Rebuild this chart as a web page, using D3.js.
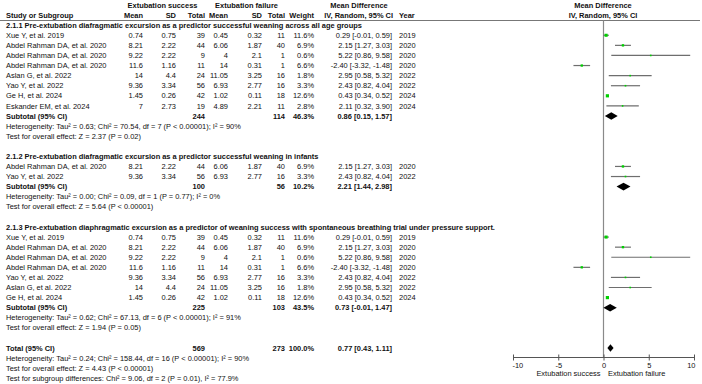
<!DOCTYPE html>
<html>
<head>
<meta charset="utf-8">
<script src="https://cdn.jsdelivr.net/npm/d3@7"></script>
<style>
  body { margin: 0; background: #fff; }
  svg text { font-family: "Liberation Sans", Arial, sans-serif; font-size: 7.45px; fill: #111; }
  .b { font-weight: bold; }
</style>
</head>
<body>
<div id="forest"></div>
<script>
// Forest plot: diaphragmatic excursion, extubation success vs failure
const groupTitles = [
  "2.1.1 Pre-extubation diafragmatic excursion as a predictor successful weaning across all age groups",
  "2.1.2 Pre-extubation diafragmatic excursion as a predictor successful weaning in infants",
  "2.1.3 Pre-extubation diaphragmatic excursion as a predictor of weaning success with spontaneous breathing trial under pressure support."
];

// study rows: [name, meanS, sdS, nS, meanF, sdF, nF, weight, md, lo, hi, year]
const group1 = [
  ["Xue Y, et al. 2019", "0.74", "0.75", 39, "0.45", "0.32", 11, 11.6, 0.29, -0.01, 0.59, 2019],
  ["Abdel Rahman DA, et al. 2020", "8.21", "2.22", 44, "6.06", "1.87", 40, 6.9, 2.15, 1.27, 3.03, 2020],
  ["Abdel Rahman DA, et al. 2020", "9.22", "2.22", 9, "4", "2.1", 1, 0.6, 5.22, 0.86, 9.58, 2020],
  ["Abdel Rahman DA, et al. 2020", "11.6", "1.16", 11, "14", "0.31", 1, 6.6, -2.40, -3.32, -1.48, 2020],
  ["Aslan G, et al. 2022", "14", "4.4", 24, "11.05", "3.25", 16, 1.8, 2.95, 0.58, 5.32, 2022],
  ["Yao Y, et al. 2022", "9.36", "3.34", 56, "6.93", "2.77", 16, 3.3, 2.43, 0.82, 4.04, 2022],
  ["Ge H, et al. 2024", "1.45", "0.26", 42, "1.02", "0.11", 18, 12.6, 0.43, 0.34, 0.52, 2024],
  ["Eskander EM, et al. 2024", "7", "2.73", 19, "4.89", "2.21", 11, 2.8, 2.11, 0.32, 3.90, 2024]
];
const group2 = [
  ["Abdel Rahman DA, et al. 2020", "8.21", "2.22", 44, "6.06", "1.87", 40, 6.9, 2.15, 1.27, 3.03, 2020],
  ["Yao Y, et al. 2022", "9.36", "3.34", 56, "6.93", "2.77", 16, 3.3, 2.43, 0.82, 4.04, 2022]
];
const group3 = [
  ["Xue Y, et al. 2019", "0.74", "0.75", 39, "0.45", "0.32", 11, 11.6, 0.29, -0.01, 0.59, 2019],
  ["Abdel Rahman DA, et al. 2020", "8.21", "2.22", 44, "6.06", "1.87", 40, 6.9, 2.15, 1.27, 3.03, 2020],
  ["Abdel Rahman DA, et al. 2020", "9.22", "2.22", 9, "4", "2.1", 1, 0.6, 5.22, 0.86, 9.58, 2020],
  ["Abdel Rahman DA, et al. 2020", "11.6", "1.16", 11, "14", "0.31", 1, 6.6, -2.40, -3.32, -1.48, 2020],
  ["Yao Y, et al. 2022", "9.36", "3.34", 56, "6.93", "2.77", 16, 3.3, 2.43, 0.82, 4.04, 2022],
  ["Aslan G, et al. 2022", "14", "4.4", 24, "11.05", "3.25", 16, 1.8, 2.95, 0.58, 5.32, 2022],
  ["Ge H, et al. 2024", "1.45", "0.26", 42, "1.02", "0.11", 18, 12.6, 0.43, 0.34, 0.52, 2024]
];
const groups = [group1, group2, group3];

// subtotals: [nS, nF, weight, md, lo, hi]
const subtotals = [
  [244, 114, "46.3%", 0.86, 0.15, 1.57],
  [100, 56, "10.2%", 2.21, 1.44, 2.98],
  [225, 103, "43.5%", 0.73, -0.01, 1.47]
];
const heterogeneity = [
  "Heterogeneity: Tau² = 0.63; Chi² = 70.54, df = 7 (P < 0.00001); I² = 90%",
  "Heterogeneity: Tau² = 0.00; Chi² = 0.09, df = 1 (P = 0.77); I² = 0%",
  "Heterogeneity: Tau² = 0.62; Chi² = 67.13, df = 6 (P < 0.00001); I² = 91%"
];
const overallTests = [
  "Test for overall effect: Z = 2.37 (P = 0.02)",
  "Test for overall effect: Z = 5.64 (P < 0.00001)",
  "Test for overall effect: Z = 1.94 (P = 0.05)"
];
const total = [569, 273, "100.0%", 0.77, 0.43, 1.11];
const totalNotes = [
  "Heterogeneity: Tau² = 0.24; Chi² = 158.44, df = 16 (P < 0.00001); I² = 90%",
  "Test for overall effect: Z = 4.43 (P < 0.00001)",
  "Test for subgroup differences: Chi² = 9.06, df = 2 (P = 0.01), I² = 77.9%"
];
const tickValues = [-10, -5, 0, 5, 10];
const favourLabels = ["Extubation success", "Extubation failure"];

// build the row list
const rows = [];
groups.forEach((g, gi) => {
  rows.push({ type: "title", text: groupTitles[gi] });
  g.forEach(s => rows.push({ type: "study", s }));
  rows.push({ type: "sub", s: subtotals[gi], label: "Subtotal (95% CI)" });
  rows.push({ type: "note", text: heterogeneity[gi] });
  rows.push({ type: "note", text: overallTests[gi] });
  rows.push({ type: "blank" });
});
rows.push({ type: "sub", s: total, label: "Total (95% CI)" });
totalNotes.forEach(t => rows.push({ type: "note", text: t }));

const width = 702, height = 384;
const svg = d3.select("#forest").append("svg")
  .attr("width", width).attr("height", height);

const y = d3.scaleLinear().domain([0, rows.length + 1]).range([5, 5 + (rows.length + 1) * 10.09]);
const x = d3.scaleLinear().domain([-10, 10]).range([513, 694]);

// column right edges
const col = { m1: 143, s1: 176, n1: 205, m2: 228, s2: 262, n2: 285, w: 314, ci: 392, yr: 399 };
// plain hyphen for negatives, as in the original
const fmt = v => v.toFixed(2);
const ciText = (m, l, h) => `${fmt(m)} [${fmt(l)}, ${fmt(h)}]`;

function txt(xp, yp, t, anchor, bold) {
  svg.append("text").attr("x", xp).attr("y", yp).attr("dy", "0.35em")
    .attr("text-anchor", anchor || "start").attr("class", bold ? "b" : null).text(t);
}

// headers
txt((128 + 205) / 2 - 4, y(0), "Extubation success", "middle", true);
txt((212 + 285) / 2 - 2, y(0), "Extubation failure", "middle", true);
txt(359, y(0), "Mean Difference", "middle", true);
txt(603, y(0), "Mean Difference", "middle", true);
txt(6, y(1), "Study or Subgroup", "start", true);
[["Mean", col.m1], ["SD", col.s1], ["Total", col.n1], ["Mean", col.m2], ["SD", col.s2], ["Total", col.n2], ["Weight", col.w]]
  .forEach(([t, c]) => txt(c, y(1), t, "end", true));
txt(col.ci + 1, y(1), "IV, Random, 95% CI", "end", true);
txt(col.yr, y(1), "Year", "start", true);
txt(603, y(1), "IV, Random, 95% CI", "middle", true);

svg.append("line").attr("x1", 0).attr("x2", 700).attr("y1", 20.5).attr("y2", 20.5)
  .attr("stroke", "#777").attr("stroke-width", 1);

// zero line
const axisY = 357.5;
svg.append("line").attr("x1", x(0)).attr("x2", x(0)).attr("y1", 20.5).attr("y2", axisY)
  .attr("stroke", "#8a8a8a").attr("stroke-width", 1.2);

// rows
rows.forEach((r, i) => {
  const yy = y(i + 2);
  if (r.type === "title") {
    txt(6, yy, r.text, "start", true);
  } else if (r.type === "note") {
    txt(6, yy, r.text, "start", false);
  } else if (r.type === "study") {
    const s = r.s;
    txt(6, yy, s[0]);
    txt(col.m1, yy, s[1], "end"); txt(col.s1, yy, s[2], "end"); txt(col.n1, yy, s[3], "end");
    txt(col.m2, yy, s[4], "end"); txt(col.s2, yy, s[5], "end"); txt(col.n2, yy, s[6], "end");
    txt(col.w, yy, s[7].toFixed(1) + "%", "end");
    txt(col.ci, yy, ciText(s[8], s[9], s[10]), "end");
    txt(col.yr, yy, s[11], "start");
    svg.append("line").attr("x1", x(s[9])).attr("x2", x(s[10])).attr("y1", yy).attr("y2", yy)
      .attr("stroke", "#6e6e6e").attr("stroke-width", 1.2);
    const side = Math.max(1.6, Math.sqrt(s[7]) * 0.9);
    svg.append("rect").attr("x", x(s[8]) - side / 2).attr("y", yy - side / 2)
      .attr("width", side).attr("height", side).attr("fill", "#00d000");
  } else if (r.type === "sub") {
    const s = r.s;
    txt(6, yy, r.label, "start", true);
    txt(col.n1, yy, s[0], "end", true);
    txt(col.n2, yy, s[1], "end", true);
    txt(col.w, yy, s[2], "end", true);
    txt(col.ci, yy, ciText(s[3], s[4], s[5]), "end", true);
    const h = 3.8;
    svg.append("path")
      .attr("d", `M${x(s[4])},${yy} L${x(s[3])},${yy - h} L${x(s[5])},${yy} L${x(s[3])},${yy + h} Z`)
      .attr("fill", "#000");
  }
});

// axis
const axis = svg.append("g").attr("transform", `translate(0,${axisY})`)
  .call(d3.axisBottom(x).tickValues(tickValues).tickSize(3).tickFormat(d => String(d)));
axis.select(".domain").attr("stroke", "#555").attr("d", `M${x(-10)},0H${x(10)}`);
axis.selectAll(".tick line").attr("y1", -3).attr("y2", 3).attr("stroke", "#555");
axis.selectAll(".tick text").attr("y", 5).attr("dy", "0.71em")
  .style("font-family", "Liberation Sans, Arial, sans-serif").style("font-size", "7.45px").attr("fill", "#222")
  .attr("text-anchor", d => d === -10 ? "start" : d === 10 ? "end" : "middle")
  .attr("dx", d => d === -10 ? -1 : d === 10 ? 1 : 0);

txt(x(0) - 3, 373, favourLabels[0], "end");
txt(x(0) + 4.5, 373, favourLabels[1], "start");
</script>
</body>
</html>
